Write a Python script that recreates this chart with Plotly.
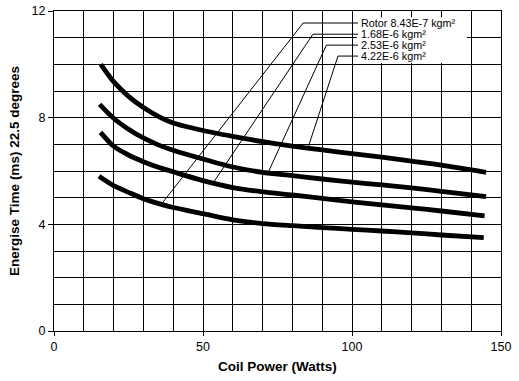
import plotly.graph_objects as go
import numpy as np

# Coil power (W) and energise time (ms) for each rotor inertia
x_a = [15.7, 20, 25, 30, 35, 40, 50, 60, 70, 80, 90, 100, 110, 120, 130, 145]
y_a = [10.0, 9.35, 8.8, 8.38, 8.05, 7.8, 7.52, 7.3, 7.1, 6.93, 6.79, 6.65, 6.52, 6.37, 6.22, 5.95]

x_b = [15.3, 20, 25, 30, 35, 40, 50, 60, 70, 80, 90, 100, 110, 120, 130, 145]
y_b = [8.5, 7.98, 7.57, 7.24, 6.98, 6.78, 6.45, 6.15, 5.95, 5.83, 5.7, 5.58, 5.48, 5.37, 5.24, 5.04]

x_c = [15.6, 20, 25, 30, 35, 40, 50, 60, 70, 80, 90, 100, 110, 120, 130, 144.5]
y_c = [7.45, 6.93, 6.6, 6.35, 6.14, 5.97, 5.64, 5.38, 5.22, 5.1, 4.97, 4.84, 4.73, 4.62, 4.5, 4.32]

x_d = [15.1, 20, 25, 30, 36, 40, 50, 60, 70, 80, 90, 100, 110, 120, 130, 144.2]
y_d = [5.8, 5.45, 5.2, 4.96, 4.75, 4.63, 4.4, 4.17, 4.03, 3.95, 3.88, 3.81, 3.75, 3.68, 3.6, 3.5]

labels = ["Rotor 8.43E-7 kgm²", "1.68E-6 kgm²", "2.53E-6 kgm²", "4.22E-6 kgm²"]
# leader: point on curve (x), elbow (x, y), label start x
leader_curve_x = [36.0, 53.4, 71.8, 85.2]
elbow_x = [83.6, 86.9, 91.4, 95.3]
elbow_y = [11.55, 11.13, 10.72, 10.31]
label_x = 102.0

x_ticks = [0, 50, 100, 150]
y_ticks = [0, 4, 8, 12]

FONT = "Liberation Sans, Arial, Helvetica, sans-serif"

fig = go.Figure()
curves = [(x_d, y_d), (x_c, y_c), (x_b, y_b), (x_a, y_a)]
for xs, ys in [(x_a, y_a), (x_b, y_b), (x_c, y_c), (x_d, y_d)]:
    fig.add_trace(go.Scatter(x=xs, y=ys, mode="lines",
                             line=dict(color="black", width=4.8, shape="spline", smoothing=0.7),
                             showlegend=False, hoverinfo="skip"))

for i, (xs, ys) in enumerate(curves):
    yc = float(np.interp(leader_curve_x[i], xs, ys))
    fig.add_trace(go.Scatter(x=[leader_curve_x[i], elbow_x[i], label_x],
                             y=[yc, elbow_y[i], elbow_y[i]], mode="lines",
                             line=dict(color="black", width=1),
                             showlegend=False, hoverinfo="skip"))
    fig.add_annotation(x=label_x, y=elbow_y[i], text=labels[i], showarrow=False,
                       xanchor="left", yanchor="middle", xshift=1,
                       font=dict(family=FONT, size=10.8, color="black"))

fig.add_shape(type="rect", x0=101.6, x1=138.5, y0=10.05, y1=11.77,
              fillcolor="white", line=dict(width=0), layer="between")

fig.update_layout(
    width=519, height=381,
    margin=dict(l=54, r=18, t=11, b=50, autoexpand=False),
    paper_bgcolor="white", plot_bgcolor="white",
    font=dict(family=FONT, size=12.5, color="black"),
)
fig.update_xaxes(range=[0, 150], tickvals=x_ticks, showgrid=True, gridcolor="black", gridwidth=1,
                 minor=dict(dtick=10, showgrid=True, gridcolor="black", gridwidth=1),
                 showline=True, linecolor="black", linewidth=1, mirror=True, automargin=False,
                 ticks="outside", ticklen=4, tickcolor="black", zeroline=False,
                 title=dict(text="<b>Coil Power (Watts)</b>", font=dict(size=13.5), standoff=8))
fig.update_yaxes(range=[0, 12], tickvals=y_ticks, showgrid=True, gridcolor="black", gridwidth=1,
                 minor=dict(dtick=1, showgrid=True, gridcolor="black", gridwidth=1),
                 showline=True, linecolor="black", linewidth=1, mirror=True, automargin=False,
                 ticks="outside", ticklen=5, tickcolor="black", zeroline=False,
                 title=dict(text="<b>Energise Time (ms) 22.5 degrees</b>", font=dict(size=13.5), standoff=8))

fig.write_html("out.html")
